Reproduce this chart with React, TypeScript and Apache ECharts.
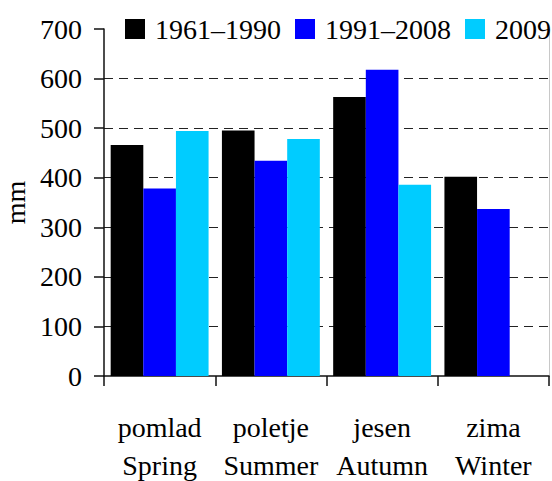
import React, { useEffect, useRef } from "react";
import * as echarts from "echarts";

const categories = ["pomlad\nSpring", "poletje\nSummer", "jesen\nAutumn", "zima\nWinter"];
const seriesNames = ["1961–1990", "1991–2008", "2009"];
const values1961 = [466, 495, 563, 402];
const values1991 = [378, 434, 618, 337];
const values2009: (number | null)[] = [494, 478, 386, null];
const colors = ["#000000", "#0000ff", "#00ccff"];
const yTicks = { min: 0, max: 700, interval: 100 };

const FONT = "Liberation Serif";

export default function App() {
  const ref = useRef<HTMLDivElement>(null);
  useEffect(() => {
    if (!ref.current) return;
    const chart = echarts.init(ref.current, undefined, { renderer: "svg" });
    const data = [values1961, values1991, values2009];
    chart.setOption({
      animation: false,
      backgroundColor: "#ffffff",
      textStyle: { fontFamily: FONT },
      legend: {
        left: 120,
        top: 10,
        width: 440,
        itemWidth: 20,
        itemHeight: 20,
        itemGap: 14,
        icon: "rect",
        data: seriesNames,
        textStyle: {
          fontFamily: FONT,
          fontSize: 28,
          color: "#000",
          padding: [0, 0, 0, 5],
          lineHeight: 28,
        },
      },
      grid: {
        left: 104,
        right: 3,
        top: 29,
        bottom: 105,
        containLabel: false,
        outerBoundsMode: "none",
      },
      xAxis: {
        type: "category",
        data: categories,
        axisLine: { lineStyle: { color: "#111", width: 1.5 } },
        axisTick: { show: true, length: 10, lineStyle: { color: "#111", width: 1.5 } },
        axisLabel: {
          fontFamily: FONT,
          fontSize: 28,
          color: "#000",
          lineHeight: 38,
          margin: 32,
          interval: 0,
        },
      },
      yAxis: [
        {
          type: "value",
          min: yTicks.min,
          max: yTicks.max,
          interval: yTicks.interval,
          name: "mm",
          nameLocation: "middle",
          nameGap: 68,
          nameRotate: 90,
          nameTextStyle: { fontFamily: FONT, fontSize: 28, color: "#000" },
          axisLine: { show: true, lineStyle: { color: "#111", width: 1.5 } },
          axisTick: { show: true, length: 10, lineStyle: { color: "#111", width: 1.5 } },
          axisLabel: { fontFamily: FONT, fontSize: 28, color: "#000", margin: 22 },
          splitLine: {
            show: true,
            showMinLine: false,
            showMaxLine: false,
            lineStyle: { color: "#222", width: 1.2, type: [9, 6] },
          },
        },
        {
          type: "value",
          position: "right",
          min: yTicks.min,
          max: yTicks.max,
          interval: yTicks.interval,
          axisLine: { show: true, lineStyle: { color: "#c8c8c8", width: 1 } },
          axisTick: { show: false },
          axisLabel: { show: false },
          splitLine: { show: false },
        },
      ],
      series: seriesNames.map((name, i) => ({
        name,
        type: "bar",
        data: data[i],
        barGap: "0%",
        barCategoryGap: "12%",
        itemStyle: { color: colors[i] },
      })),
    });
    return () => chart.dispose();
  }, []);
  return (
    <div
      ref={ref}
      style={{ position: "fixed", left: 0, top: 0, width: 552, height: 481 }}
    />
  );
}
